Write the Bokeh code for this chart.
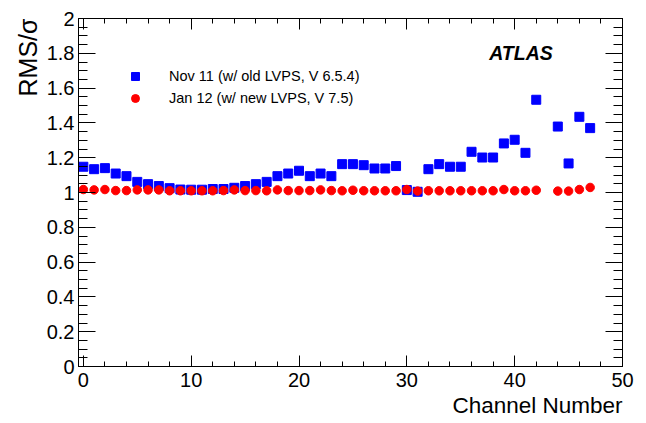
from bokeh.plotting import figure
from bokeh.models import Range1d, FixedTicker, LinearAxis, Legend, LegendItem, Label, Title
from bokeh.embed import file_html
from bokeh.resources import INLINE

# ---- data ----
channels_nov = [0, 1, 2, 3, 4, 5, 6, 7, 8, 9, 10, 11, 12, 13, 14, 15, 16, 17, 18, 19,
                20, 21, 22, 23, 24, 25, 26, 27, 28, 29, 30, 31, 32, 33, 34, 35, 36, 37,
                38, 39, 40, 41, 42, 44, 45, 46, 47]
rms_nov = [1.148, 1.134, 1.140, 1.109, 1.094, 1.061, 1.048, 1.037, 1.025, 1.017,
           1.016, 1.016, 1.020, 1.020, 1.027, 1.037, 1.048, 1.061, 1.094, 1.109,
           1.125, 1.094, 1.109, 1.094, 1.163, 1.163, 1.157, 1.138, 1.138, 1.152,
           1.014, 1.004, 1.134, 1.163, 1.148, 1.148, 1.234, 1.201, 1.201, 1.282,
           1.303, 1.228, 1.533, 1.379, 1.167, 1.435, 1.370]

channels_jan = [0, 1, 2, 3, 4, 5, 6, 7, 8, 9, 10, 11, 12, 13, 14, 15, 16, 17, 18, 19,
                20, 21, 22, 23, 24, 25, 26, 27, 28, 29, 30, 31, 32, 33, 34, 35, 36, 37,
                38, 39, 40, 41, 42, 44, 45, 46, 47]
rms_jan = [1.017, 1.015, 1.017, 1.011, 1.011, 1.015, 1.015, 1.015, 1.010, 1.010,
           1.010, 1.010, 1.010, 1.011, 1.015, 1.011, 1.011, 1.010, 1.015, 1.011,
           1.011, 1.011, 1.015, 1.011, 1.010, 1.013, 1.010, 1.010, 1.010, 1.010,
           1.017, 1.008, 1.010, 1.010, 1.010, 1.010, 1.010, 1.010, 1.010, 1.017,
           1.010, 1.010, 1.013, 1.008, 1.008, 1.017, 1.029]

label_nov = "Nov 11 (w/ old LVPS, V 6.5.4)"
label_jan = "Jan 12 (w/ new LVPS, V 7.5)"

x_ticks = [0, 10, 20, 30, 40, 50]
x_minor = [2, 4, 6, 8, 12, 14, 16, 18, 22, 24, 26, 28, 32, 34, 36, 38, 42, 44, 46, 48]
y_ticks = [0, 0.2, 0.4, 0.6, 0.8, 1, 1.2, 1.4, 1.6, 1.8, 2]
y_tick_labels = ["0", "0.2", "0.4", "0.6", "0.8", "1", "1.2", "1.4", "1.6", "1.8", "2"]
y_minor = [round(0.05 * i, 2) for i in range(41) if i % 4 != 0]

FONT = "Liberation Sans"

p = figure(width=646, height=423, output_backend="svg", toolbar_location=None,
           x_range=Range1d(-0.45, 50), y_range=Range1d(0, 2),
           x_axis_type=None, y_axis_type=None,
           min_border_left=78, min_border_right=24, min_border_top=18, min_border_bottom=57)
p.background_fill_color = "white"
p.border_fill_color = "white"
p.outline_line_color = "black"
p.outline_line_width = 1
p.xgrid.visible = False
p.ygrid.visible = False

xt = FixedTicker(ticks=x_ticks, minor_ticks=x_minor)
yt = FixedTicker(ticks=y_ticks, minor_ticks=y_minor)


def style_axis(ax, tick_major, tick_minor):
    ax.axis_line_color = "black"
    ax.axis_line_width = 1
    ax.major_tick_in = tick_major
    ax.major_tick_out = 0
    ax.minor_tick_in = tick_minor
    ax.minor_tick_out = 0
    ax.major_tick_line_color = "black"
    ax.minor_tick_line_color = "black"
    ax.major_label_text_font = FONT
    ax.major_label_text_color = "black"
    ax.major_label_text_font_size = "20px"
    ax.major_label_standoff = 4


xb = LinearAxis(ticker=xt)
style_axis(xb, 11, 5)
xb.major_label_standoff = 6
p.add_layout(xb, "below")
xa = LinearAxis(ticker=xt)
style_axis(xa, 11, 5)
xa.major_label_overrides = {t: "" for t in x_ticks}
xa.major_label_standoff = 0
p.add_layout(xa, "above")

yl = LinearAxis(ticker=yt)
style_axis(yl, 17, 9)
yl.major_label_overrides = {t: s for t, s in zip(y_ticks, y_tick_labels)}
p.add_layout(yl, "left")
yr = LinearAxis(ticker=yt)
style_axis(yr, 17, 9)
yr.major_label_overrides = {t: "" for t in y_ticks}
yr.major_label_standoff = 0
p.add_layout(yr, "right")

r_nov = p.scatter(channels_nov, rms_nov, marker="square", size=9,
                  fill_color="#0000ff", line_color="#0000ff")
r_jan = p.scatter(channels_jan, rms_jan, marker="circle", size=8.5,
                  fill_color="#ff0000", line_color="#ff0000")

legend = Legend(items=[LegendItem(label=label_nov, renderers=[r_nov]),
                       LegendItem(label=label_jan, renderers=[r_jan])],
                location=(47, 258), padding=0, margin=0, spacing=2,
                glyph_width=20, glyph_height=20, label_height=20, label_standoff=24,
                border_line_alpha=0, background_fill_alpha=0,
                label_text_font=FONT, label_text_font_size="14.5px",
                label_text_color="black")
p.add_layout(legend)

p.add_layout(Label(x=37.64, y=1.803, text="ATLAS", text_font=FONT,
                   text_font_size="19.5px", text_font_style="bold italic",
                   text_color="black", text_align="left", text_baseline="alphabetic"))

p.add_layout(Title(text="RMS/σ", align="right", text_font=FONT, text_font_size="25px",
                   text_font_style="normal", text_color="black", standoff=4), "left")
p.add_layout(Title(text="Channel Number", align="right", text_font=FONT,
                   text_font_size="22.5px", text_font_style="normal",
                   text_color="black", standoff=2), "below")

open("out.html", "w").write(file_html(p, INLINE))
